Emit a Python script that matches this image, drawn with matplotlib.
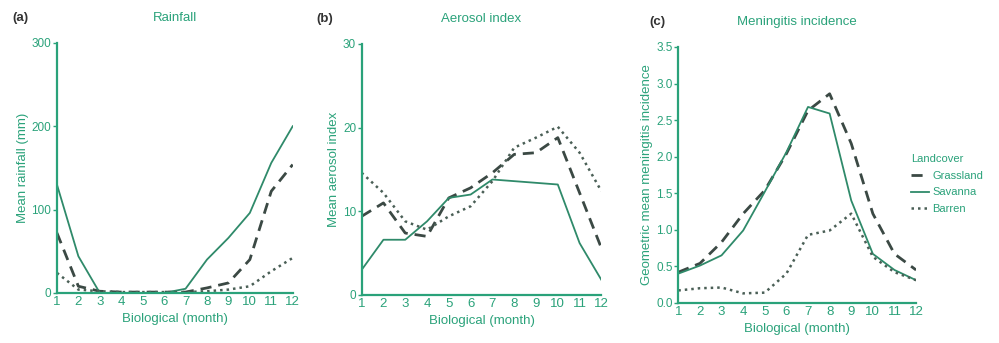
import matplotlib.pyplot as plt
from matplotlib.lines import Line2D

plt.rcParams['font.family'] = ['Liberation Sans', 'DejaVu Sans']

months = list(range(1, 13))

# (a) mean rainfall (mm)
rain_grassland = [72, 8, 2, 1, 1, 1, 1, 6, 12, 40, 122, 154]
rain_savanna = [130, 44, 0, 0, 0, 0, 5, 40, 66, 96, 156, 200]
rain_barren = [24, 4, 2, 1, 1, 1, 1, 2, 4, 8, 26, 42]

# (b) mean aerosol index
aer_grassland = [9.4, 11.0, 7.4, 7.0, 11.6, 12.8, 14.6, 16.8, 17.0, 18.8, 12.2, 5.6]
aer_savanna = [3.0, 6.6, 6.6, 8.8, 11.6, 12.0, 13.8, 13.6, 13.4, 13.2, 6.2, 1.8]
aer_barren = [14.6, 12.2, 8.8, 7.8, 9.4, 10.6, 13.6, 17.6, 18.8, 20.1, 17.0, 12.4]

# (c) geometric mean meningitis incidence
men_grassland = [0.42, 0.54, 0.83, 1.22, 1.54, 2.04, 2.63, 2.86, 2.18, 1.22, 0.67, 0.45]
men_savanna = [0.40, 0.51, 0.65, 0.99, 1.52, 2.06, 2.68, 2.59, 1.40, 0.67, 0.45, 0.31]
men_barren = [0.17, 0.20, 0.21, 0.13, 0.14, 0.40, 0.93, 0.99, 1.22, 0.63, 0.42, 0.31]

GREEN = '#2aa27a'
C_DASH = '#3b4944'
C_SOLID = '#2f8a6a'
C_DOT = '#4a5f56'

panels = [
    ("(a)", -0.19, "Rainfall", "Mean rainfall (mm)", (0, 300), [0, 100, 200, 300], None,
     rain_grassland, rain_savanna, rain_barren, [0.057, 0.146, 0.236, 0.729]),
    ("(b)", -0.19, "Aerosol index", "Mean aerosol index", (0, 30), [0, 10, 20, 30], None,
     aer_grassland, aer_savanna, aer_barren, [0.362, 0.140, 0.240, 0.732]),
    ("(c)", -0.12, "Meningitis incidence", "Geometric mean meningitis incidence", (0, 3.5),
     [0, 0.5, 1.0, 1.5, 2.0, 2.5, 3.0, 3.5], "{:.1f}",
     men_grassland, men_savanna, men_barren, [0.679, 0.117, 0.238, 0.746]),
]

fig = plt.figure(figsize=(9.99, 3.43), dpi=100)

for tag, tag_x, title, ylabel, ylim, yticks, fmt, g, s, b, rect in panels:
    ax = fig.add_axes(rect)
    ax.plot(months, g, color=C_DASH, lw=2.0, ls=(0, (4, 2.5)), label="Grassland")
    ax.plot(months, s, color=C_SOLID, lw=1.3, ls='-', label="Savanna")
    ax.plot(months, b, color=C_DOT, lw=1.8, ls=(0, (1, 1.6)), label="Barren")
    ax.set_xlim(1, 12)
    ax.set_ylim(*ylim)
    ax.set_xticks(months)
    ax.set_yticks(yticks)
    if fmt:
        ax.set_yticklabels([fmt.format(v) for v in yticks])
    for side in ('top', 'right'):
        ax.spines[side].set_visible(False)
    for side in ('left', 'bottom'):
        ax.spines[side].set_color(GREEN)
        ax.spines[side].set_linewidth(1.6)
    ax.tick_params(axis='y', colors=GREEN, labelsize=8.5, length=3, width=1, pad=1)
    ax.tick_params(axis='x', colors=GREEN, labelsize=9.5, length=0, pad=2)
    ax.set_xlabel("Biological (month)", color=GREEN, fontsize=9.5, labelpad=4)
    ax.set_ylabel(ylabel, color=GREEN, fontsize=9.5, labelpad=2)
    ax.set_title(title, color=GREEN, fontsize=9.5, pad=16)
    # panel tag on the same baseline as the title
    ax.annotate(tag, xy=(tag_x, 0), xycoords=('axes fraction', ax.title),
                fontsize=9.5, fontweight='bold', color='#333333',
                va='bottom', ha='left')
    ax.patch.set_alpha(0)

handles = [
    Line2D([], [], color=C_DASH, lw=2.0, ls=(0, (4, 2.5))),
    Line2D([], [], color=C_SOLID, lw=1.3),
    Line2D([], [], color=C_DOT, lw=1.8, ls=(0, (1, 1.6))),
]
leg = fig.legend(handles, ["Grassland", "Savanna", "Barren"], title="Landcover",
                 loc='upper left', bbox_to_anchor=(0.902, 0.58), frameon=False,
                 fontsize=8, title_fontsize=8, handlelength=1.6,
                 handletextpad=0.3, labelspacing=0.6, alignment='left')
for t in leg.get_texts():
    t.set_color(GREEN)
leg.get_title().set_color(GREEN)

fig.savefig("out.png", dpi=100, facecolor='white')
